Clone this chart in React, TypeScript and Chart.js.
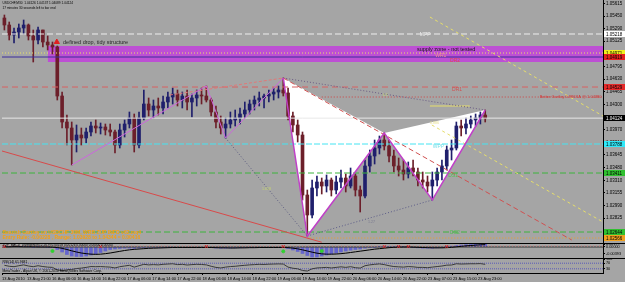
import React, { useEffect, useRef } from "react";
import { Chart, registerables } from "chart.js";

Chart.register(...registerables);

const FONT = "'Liberation Sans', Arial, sans-serif";
Chart.defaults.font.family = FONT;

// ---------------- data (USDCHF M30) ----------------
const opens = [
  1.05426, 1.05335, 1.05205, 1.05244, 1.05296, 1.05335, 1.05192, 1.0514, 1.0527, 1.05114,
  1.05075, 1.05049, 1.04412, 1.04074, 1.03996, 1.0384, 1.03905, 1.03866, 1.03944, 1.04022,
  1.03996, 1.04009, 1.0397, 1.03944, 1.03775, 1.0397, 1.04048, 1.04126, 1.03775, 1.04126,
  1.04308, 1.0423, 1.04282, 1.04256, 1.04334, 1.04399, 1.04438, 1.0436, 1.04412, 1.04334,
  1.04386, 1.04425, 1.04412, 1.0436, 1.04204, 1.04074, 1.03996, 1.04048, 1.041, 1.04126,
  1.04178, 1.0423, 1.04308, 1.0436, 1.04386, 1.04412, 1.04438, 1.04464, 1.0449, 1.04451,
  1.04152, 1.04035, 1.03905, 1.03125, 1.02865, 1.03216, 1.03294, 1.03242, 1.0332, 1.0319,
  1.03294, 1.03346, 1.03242, 1.03372, 1.0319, 1.03112, 1.03502, 1.03632, 1.03736, 1.0384,
  1.03762, 1.03632, 1.03502, 1.0345, 1.03398, 1.03476, 1.03424, 1.0332, 1.03294, 1.03242,
  1.0332, 1.03424, 1.03502, 1.0371, 1.03736, 1.04022, 1.03996, 1.04048, 1.041, 1.04126,
  1.04165,
];
const highs = [
  1.05465, 1.05374, 1.05296, 1.05348, 1.054, 1.05348, 1.0527, 1.05309, 1.0527, 1.05192,
  1.05114, 1.05062, 1.04464, 1.04165, 1.04074, 1.04035, 1.03996, 1.03996, 1.04074, 1.041,
  1.04061, 1.04048, 1.04048, 1.0397, 1.04048, 1.041, 1.04204, 1.04178, 1.04204, 1.0449,
  1.04386, 1.0436, 1.04386, 1.04412, 1.04464, 1.04516, 1.0449, 1.04464, 1.0449, 1.04438,
  1.0449, 1.04516, 1.04542, 1.04386, 1.04282, 1.04152, 1.04126, 1.04204, 1.0423, 1.04256,
  1.04334, 1.0436, 1.04412, 1.04464, 1.04438, 1.0449, 1.04516, 1.04542, 1.04646, 1.04516,
  1.04204, 1.041, 1.03944, 1.0319, 1.0332, 1.03372, 1.03346, 1.03385, 1.03346, 1.03372,
  1.0345, 1.03398, 1.03476, 1.03398, 1.03242, 1.0358, 1.0371, 1.0384, 1.03892, 1.03931,
  1.0384, 1.0371, 1.03606, 1.0358, 1.03554, 1.0358, 1.03476, 1.03424, 1.03372, 1.03424,
  1.03476, 1.0358, 1.03762, 1.0384, 1.04074, 1.041, 1.04126, 1.04152, 1.04178, 1.04204,
  1.0423,
];
const lows = [
  1.0527, 1.0514, 1.05101, 1.05166, 1.05218, 1.0514, 1.04854, 1.05088, 1.05049, 1.0501,
  1.04958, 1.0436, 1.03996, 1.03775, 1.03515, 1.03684, 1.03775, 1.03801, 1.03892, 1.03931,
  1.03918, 1.03905, 1.03892, 1.03671, 1.03736, 1.03879, 1.03996, 1.03684, 1.03736, 1.041,
  1.04152, 1.04126, 1.04165, 1.04178, 1.04256, 1.04308, 1.04282, 1.04256, 1.0423, 1.04139,
  1.04282, 1.04308, 1.04334, 1.04152, 1.03996, 1.03918, 1.03866, 1.03996, 1.04022, 1.04048,
  1.04126, 1.04178, 1.0423, 1.04282, 1.04256, 1.04334, 1.0436, 1.04386, 1.04412, 1.041,
  1.03944, 1.03814, 1.0306, 1.02592, 1.02826, 1.03112, 1.03138, 1.03164, 1.03112, 1.03138,
  1.03216, 1.03164, 1.03216, 1.03112, 1.02904, 1.03086, 1.03424, 1.03528, 1.03658, 1.0371,
  1.03554, 1.03424, 1.03372, 1.0332, 1.03346, 1.03372, 1.03242, 1.03216, 1.03164, 1.0306,
  1.03242, 1.0332, 1.0345, 1.0358, 1.0371, 1.03892, 1.03918, 1.03996, 1.04022, 1.04048,
  1.04074,
];
const closes = [
  1.05335, 1.05205, 1.05244, 1.05296, 1.05335, 1.05192, 1.0514, 1.0527, 1.05114, 1.05075,
  1.05049, 1.04412, 1.04074, 1.03996, 1.0384, 1.03905, 1.03866, 1.03944, 1.04022, 1.03996,
  1.04009, 1.0397, 1.03944, 1.03775, 1.0397, 1.04048, 1.04126, 1.03775, 1.04126, 1.04308,
  1.0423, 1.04282, 1.04256, 1.04334, 1.04399, 1.04438, 1.0436, 1.04412, 1.04334, 1.04386,
  1.04425, 1.04412, 1.0436, 1.04204, 1.04074, 1.03996, 1.04048, 1.041, 1.04126, 1.04178,
  1.0423, 1.04308, 1.0436, 1.04386, 1.04412, 1.04438, 1.04464, 1.0449, 1.04451, 1.04152,
  1.04035, 1.03905, 1.03125, 1.02865, 1.03216, 1.03294, 1.03242, 1.0332, 1.0319, 1.03294,
  1.03346, 1.03242, 1.03372, 1.0319, 1.03112, 1.03502, 1.03632, 1.03736, 1.0384, 1.03762,
  1.03632, 1.03502, 1.0345, 1.03398, 1.03476, 1.03424, 1.0332, 1.03294, 1.03242, 1.0332,
  1.03424, 1.03502, 1.0371, 1.03736, 1.04022, 1.03996, 1.04048, 1.041, 1.04126, 1.04165,
  1.04124,
];

const priceTicks = [
  1.05615, 1.0545, 1.0529, 1.05125, 1.0496, 1.04795, 1.0463, 1.04465, 1.043, 1.04135,
  1.0397, 1.0381, 1.03645, 1.0348, 1.0331, 1.03155, 1.0299, 1.02825,
];

const timeLabels = [
  "13 Aug 2010", "13 Aug 21:00", "16 Aug 06:00", "16 Aug 14:00", "16 Aug 22:00",
  "17 Aug 06:00", "17 Aug 14:00", "17 Aug 22:00", "18 Aug 06:00", "18 Aug 14:00",
  "18 Aug 22:00", "19 Aug 06:00", "19 Aug 14:00", "19 Aug 22:00", "20 Aug 06:00",
  "20 Aug 14:00", "20 Aug 22:00", "23 Aug 07:00", "23 Aug 15:00", "23 Aug 23:00",
];
const timeTickBars = [
  -0.5, 4.71, 9.92, 15.13, 20.34, 25.55, 30.76, 35.97, 41.18, 46.39,
  51.6, 56.81, 62.02, 67.23, 72.44, 77.65, 82.86, 88.07, 93.28, 98.49,
];

// horizontal levels (pivots, bid, entry)
const levelNames = ["MPP", "WR1", "WPIV", "DR1", "Bid", "WPP", "DS1", "DS2", "Entry"];
const levelValues = [1.05218, 1.04971, 1.04919, 1.04529, 1.04124, 1.03788, 1.03411, 1.02644, 1.02566];
const levelFromBars = [-0.5, -0.5, -0.5, -0.5, -0.5, -0.5, -0.5, -0.5, 63];

// supply zone
const zoneFromBar = 9;
const zoneTop = 1.05062;
const zoneBottom = 1.04854;

// ZUP patterns
const gartleyBars = [58, 63, 79, 89, 100];
const gartleyPrices = [1.04646, 1.02592, 1.03931, 1.0306, 1.0423];
const leftPatternBars = [14, 42, 46, 58];
const leftPatternPrices = [1.03515, 1.04542, 1.03866, 1.04646];

// trend / projection lines
const trendFromBars = [-1, 34.4, 46, 58, 63, 58, 88.5, 88.9, 88.5, 66];
const trendFromPrices = [1.03706, 1.04425, 1.03866, 1.04646, 1.02592, 1.04646, 1.05439, 1.04035, 1.04282, 1.04399];
const trendToBars = [66, 58, 63, 100, 89, 118, 124.5, 124.5, 96.8, 124.5];
const trendToPrices = [1.02511, 1.04646, 1.02592, 1.0423, 1.0306, 1.0254, 1.04152, 1.02774, 1.04282, 1.04399];

const arrowBars = [10.9];
const arrowPrices = [1.05114];

// MACD sub-window
const macdHist = [
  0.0002, 0.0003, 0.0002, 0.0001, 0.0002, 0.0001, -0.0001, 0.0001, 0.0, -0.0001,
  -0.0003, -0.0015, -0.003, -0.0045, -0.0054, -0.0057, -0.0057, -0.0054, -0.0048, -0.0042,
  -0.0033, -0.0024, -0.0015, -0.0012, -0.0009, -0.0007, -0.0007, -0.0008, -0.0006, -0.0004,
  -0.0003, -0.0003, -0.0002, -0.0002, -0.0001, -0.0001, -0.0002, -0.0002, -0.0003, -0.0003,
  -0.0004, -0.0004, -0.0003, -0.0004, -0.0006, -0.0007, -0.0007, -0.0006, -0.0005, -0.0005,
  -0.0004, -0.0004, -0.0003, -0.0003, -0.0003, -0.0002, -0.0002, -0.0002, -0.0003, -0.0009,
  -0.0018, -0.0027, -0.0039, -0.0051, -0.006, -0.006, -0.0054, -0.0048, -0.0042, -0.0036,
  -0.003, -0.0024, -0.0019, -0.0015, -0.0012, -0.0007, -0.0004, -0.0001, 0.0002, 0.0004,
  0.0004, 0.0003, 0.0002, 0.0001, -0.0001, -0.0004, -0.0005, -0.0007, -0.0007, -0.0007,
  -0.0005, -0.0003, 0.0001, 0.0005, 0.0009, 0.0012, 0.0014, 0.0015, 0.0016, 0.0016,
  0.0016,
];
const macdSignal = [
  0.0001, 0.0001, 0.0002, 0.0002, 0.0001, 0.0001, 0.0001, 0.0, 0.0, 0.0,
  -0.0001, -0.0003, -0.0008, -0.0015, -0.0023, -0.003, -0.0036, -0.004, -0.0043, -0.0044,
  -0.0043, -0.004, -0.0036, -0.0031, -0.0026, -0.0021, -0.0017, -0.0014, -0.0012, -0.001,
  -0.0008, -0.0007, -0.0006, -0.0005, -0.0004, -0.0003, -0.0003, -0.0003, -0.0003, -0.0003,
  -0.0003, -0.0003, -0.0003, -0.0003, -0.0004, -0.0005, -0.0005, -0.0006, -0.0006, -0.0005,
  -0.0005, -0.0004, -0.0004, -0.0003, -0.0003, -0.0003, -0.0003, -0.0003, -0.0003, -0.0004,
  -0.0007, -0.0011, -0.0017, -0.0024, -0.0031, -0.0037, -0.0041, -0.0043, -0.0043, -0.0042,
  -0.004, -0.0037, -0.0033, -0.0029, -0.0025, -0.0021, -0.0017, -0.0013, -0.001, -0.0007,
  -0.0004, -0.0002, -0.0001, 0.0, 0.0, -0.0001, -0.0002, -0.0003, -0.0004, -0.0005,
  -0.0005, -0.0005, -0.0004, -0.0002, 0.0001, 0.0004, 0.0007, 0.0009, 0.0011, 0.0013,
  0.0014,
];
const macdRedMarkBars = [0, 20, 42, 58, 79, 82, 84, 92];
const macdRedMarkValues = [0.0003, 0.0003, 0.0003, 0.0003, 0.0003, 0.0003, 0.0003, 0.0003];
const macdGreenMarkBars = [10, 58, 66];
const macdGreenMarkValues = [-0.0024, -0.0026, -0.0024];
const macdTicks = [0.00179, 0, -0.00393];

// RSI sub-window
const rsiValues = [
  55, 48, 45, 52, 58, 50, 45, 52, 46, 42,
  40, 22, 18, 22, 25, 32, 35, 40, 46, 45,
  46, 44, 42, 36, 45, 50, 55, 42, 52, 62,
  58, 60, 58, 62, 64, 66, 60, 62, 57, 60,
  62, 61, 58, 48, 40, 36, 42, 46, 48, 52,
  55, 58, 60, 62, 61, 63, 64, 65, 64, 42,
  34, 30, 18, 14, 30, 36, 38, 40, 36, 40,
  44, 40, 45, 38, 35, 52, 58, 62, 65, 60,
  52, 46, 44, 42, 46, 44, 40, 40, 38, 42,
  46, 50, 56, 57, 66, 64, 65, 66, 66, 67,
  62,
];
const rsiLevels = [70, 30];
const rsiTicks = [100, 70, 30];

// ---------------- styles / layout ----------------
const BG = "#a5a5a5";
const BULL = "#1f1f6c";
const BEAR = "#6c1f2a";
const ZONE = "#bd50d4";
const HIST = "#6464cc";
const BAR_MIN = -0.5;
const BAR_MAX = 124.5;
const PRICE_MAX = 1.0566;
const PRICE_MIN = 1.02501;

const levelStyles = [
  { color: "#eeeeee", dash: [6, 3], bg: "#ffffff", fg: "#000000" },
  { color: "#e8e068", dash: [1, 2], bg: "#f0f020", fg: "#000000" },
  { color: "#3a2c9c", dash: [], bg: "#e42020", fg: "#000000" },
  { color: "#d86060", dash: [6, 4], bg: "#e42a2a", fg: "#000000" },
  { color: "#e8e8e8", dash: [], bg: "#000000", fg: "#ffffff" },
  { color: "#44e4f2", dash: [6, 2], bg: "#30e8f8", fg: "#000000" },
  { color: "#3cb43c", dash: [6, 3], bg: "#30c030", fg: "#000000" },
  { color: "#3cb43c", dash: [6, 3], bg: "#30c030", fg: "#000000" },
  { color: "#f0a020", dash: [1, 2], bg: "#f0a020", fg: "#000000" },
];
const trendStyles = [
  { color: "#d84a4a", dash: [], width: 1 },
  { color: "#e07878", dash: [3, 2], width: 1 },
  { color: "#5c5c80", dash: [1, 2], width: 1 },
  { color: "#6a5a84", dash: [1, 2], width: 1 },
  { color: "#5c5c88", dash: [1, 2], width: 1 },
  { color: "#d05050", dash: [5, 3], width: 1 },
  { color: "#e6de6a", dash: [3, 3], width: 1 },
  { color: "#e6de6a", dash: [3, 3], width: 1 },
  { color: "#e6de6a", dash: [], width: 1 },
  { color: "#d04040", dash: [1, 2], width: 1 },
];

type Note = { text: string; bar: number; value: number; color: string; font: string; align?: CanvasTextAlign };

const mainNotes: Note[] = [
  { text: "USDCHF,M30  1.04126 1.04137 1.04089 1.04124", bar: -0.4, value: 1.05621, color: "#000", font: `3.2px ${FONT}` },
  { text: "17 minutes 30 seconds left to bar end", bar: -0.4, value: 1.05556, color: "#000", font: `3.2px ${FONT}` },
  { text: "defined drop, tidy structure", bar: 12.2, value: 1.05114, color: "#262626", font: `5.5px ${FONT}` },
  { text: "supply zone - not tested", bar: 85.8, value: 1.05023, color: "#141414", font: `5.5px ${FONT}` },
  { text: "MPP", bar: 86.4, value: 1.05205, color: "#eeeeee", font: `5px ${FONT}` },
  { text: "WR1", bar: 89.6, value: 1.04932, color: "#f09090", font: `5px ${FONT}` },
  { text: "DR2", bar: 92.7, value: 1.04867, color: "#e04848", font: `5px ${FONT}` },
  { text: "DR1", bar: 93.1, value: 1.0449, color: "#d05050", font: `5px ${FONT}` },
  { text: "Better Gartley 0.886XA @ 1.04380", bar: 124.2, value: 1.04405, color: "#d83030", font: `4px ${FONT}`, align: "right" },
  { text: "WPP", bar: 89.1, value: 1.03749, color: "#78e0ea", font: `5px ${FONT}` },
  { text: "DS1", bar: 92.3, value: 1.03372, color: "#50c050", font: `5px ${FONT}` },
  { text: "DS2", bar: 92.7, value: 1.02631, color: "#50c050", font: `5px ${FONT}` },
  { text: "0.886", bar: 88.5, value: 1.04061, color: "#e8e090", font: `3.6px ${FONT}` },
  { text: "1.618", bar: 53.6, value: 1.03203, color: "#c8d870", font: `3.6px ${FONT}` },
  { text: "1.27", bar: 75.6, value: 1.02774, color: "#7a7a90", font: `3.6px ${FONT}` },
  { text: "0.5", bar: 78.7, value: 1.04425, color: "#c8d870", font: `3.6px ${FONT}` },
  { text: "Bearish Gartley on USDCHF 30M, WRB ZUP INFO v62.mq4", bar: -0.4, value: 1.02631, color: "#f5a010", font: `bold 5px ${FONT}` },
  { text: "Entry Rule: -0.00228 , Range: 1.03928 to 1.04344 = 0.00416", bar: -0.4, value: 1.02566, color: "#f5a010", font: `bold 5px ${FONT}` },
];
const macdNotes: Note[] = [
  { text: "ZUP_MACD_Divergence(12,26,9) 0.00158 0.00126 0.00000 0.00000 0.00000", bar: -0.4, value: 0.0011, color: "#000", font: `3.2px ${FONT}` },
];
const rsiNotes: Note[] = [
  { text: "RSI(14) 61.9681", bar: -0.4, value: 79, color: "#000", font: `3.4px ${FONT}` },
  { text: "MetaTrader - Alpari UK, \u00a9 2001-2010 MetaQuotes Software Corp.", bar: -0.4, value: 17, color: "#000", font: `3.4px ${FONT}` },
];

// ---------------- helpers ----------------
const pts = (bars: number[], vals: number[]) => bars.map((b, i) => ({ x: b, y: vals[i] }));

function lineDs(data: any[], color: string, dash: number[], width: number, order: number, extra: any = {}) {
  return {
    type: "line",
    data,
    borderColor: color,
    borderDash: dash,
    borderWidth: width,
    pointRadius: 0,
    fill: false,
    tension: 0,
    order,
    ...extra,
  };
}

function notesPlugin(id: string, notes: Note[]) {
  return {
    id,
    afterDatasetsDraw(chart: any) {
      const { ctx, scales } = chart;
      ctx.save();
      ctx.textBaseline = "middle";
      for (const n of notes) {
        ctx.font = n.font;
        ctx.fillStyle = n.color;
        ctx.textAlign = n.align || "left";
        ctx.fillText(n.text, scales.x.getPixelForValue(n.bar), scales.y.getPixelForValue(n.value));
      }
      ctx.restore();
    },
  };
}

const tagsPlugin = {
  id: "priceTags",
  afterDraw(chart: any) {
    const { ctx, scales, chartArea } = chart;
    ctx.save();
    ctx.font = `4.5px ${FONT}`;
    ctx.textBaseline = "middle";
    ctx.textAlign = "left";
    levelValues.forEach((v, i) => {
      const y = Math.round(scales.y.getPixelForValue(v));
      ctx.fillStyle = levelStyles[i].bg;
      ctx.fillRect(chartArea.right + 1, y - 3, 21, 6);
      ctx.fillStyle = levelStyles[i].fg;
      ctx.fillText(v.toFixed(5), chartArea.right + 3, y + 0.5);
    });
    ctx.restore();
  },
};

const hiddenX = {
  type: "linear",
  min: BAR_MIN,
  max: BAR_MAX,
  display: false,
  offset: false,
  grid: { display: false },
};

function rightY(min: number, max: number, ticks: number[], fmt: (v: number) => string, size: number) {
  return {
    type: "linear",
    position: "right",
    min,
    max,
    afterBuildTicks: (s: any) => {
      s.ticks = ticks.map((v) => ({ value: v }));
    },
    afterFit: (s: any) => {
      s.width = 22;
      s.paddingTop = 0;
      s.paddingBottom = 0;
    },
    ticks: { autoSkip: false, font: { size, family: FONT }, color: "#000", padding: 1, callback: (v: any) => fmt(Number(v)) },
    grid: { drawOnChartArea: false, drawTicks: true, tickLength: 2, color: "#000" },
    border: { display: true, color: "#000", width: 1 },
  };
}

const baseOptions = (scales: any) => ({
  animation: false,
  responsive: false,
  maintainAspectRatio: false,
  devicePixelRatio: 1,
  events: [],
  layout: { autoPadding: false, padding: { left: 2, right: 0, top: 0, bottom: 0 } },
  plugins: { legend: { display: false }, tooltip: { enabled: false } },
  scales,
});

function mainConfig(): any {
  const colors = closes.map((c, i) => (c >= opens[i] ? BULL : BEAR));
  const gp = pts(gartleyBars, gartleyPrices);
  const datasets: any[] = [
    lineDs(pts([zoneFromBar, BAR_MAX], [zoneTop, zoneTop]), "rgba(0,0,0,0)", [], 1, 60, {
      fill: { value: zoneBottom },
      backgroundColor: ZONE,
    }),
    lineDs([gp[0], gp[1], gp[2]], "rgba(0,0,0,0)", [], 1, 55, { fill: "shape", backgroundColor: "#ffffff" }),
    lineDs([gp[2], gp[3], gp[4]], "rgba(0,0,0,0)", [], 1, 55, { fill: "shape", backgroundColor: "#ffffff" }),
    {
      type: "bar",
      data: highs.map((h, i) => ({ x: i, y: [lows[i], h] })),
      backgroundColor: colors,
      barThickness: 1,
      maxBarThickness: 1,
      grouped: false,
      order: 40,
    },
    {
      type: "bar",
      data: opens.map((o, i) => ({ x: i, y: [o, closes[i]] })),
      backgroundColor: colors,
      barThickness: 3,
      maxBarThickness: 3,
      grouped: false,
      order: 39,
    },
  ];
  levelValues.forEach((v, i) => {
    datasets.push(lineDs(pts([levelFromBars[i], BAR_MAX], [v, v]), levelStyles[i].color, levelStyles[i].dash, 1, 20));
  });
  trendFromBars.forEach((b, i) => {
    datasets.push(
      lineDs(pts([b, trendToBars[i]], [trendFromPrices[i], trendToPrices[i]]), trendStyles[i].color, trendStyles[i].dash, trendStyles[i].width, 15)
    );
  });
  datasets.push(lineDs(pts(leftPatternBars, leftPatternPrices), "#cc66dd", [], 1, 10));
  datasets.push(lineDs(gp, "#c040c8", [], 1.5, 9));
  datasets.push(
    lineDs(pts(arrowBars, arrowPrices), "#e02020", [], 1, 5, {
      showLine: false,
      pointRadius: 3,
      pointStyle: "triangle",
      pointBackgroundColor: "#e02020",
      pointBorderColor: "#e02020",
    })
  );
  return {
    type: "bar",
    data: { datasets },
    options: baseOptions({ x: hiddenX, y: rightY(PRICE_MIN, PRICE_MAX, priceTicks, (v) => v.toFixed(5), 4.5) }),
    plugins: [notesPlugin("mainNotes", mainNotes), tagsPlugin],
  };
}

function macdConfig(): any {
  const idx = macdHist.map((_, i) => i);
  const datasets: any[] = [
    {
      type: "bar",
      data: macdHist.map((v, i) => ({ x: i, y: [0, v] })),
      backgroundColor: HIST,
      barThickness: 3,
      maxBarThickness: 3,
      grouped: false,
      order: 30,
    },
    lineDs(pts([BAR_MIN, BAR_MAX], [0, 0]), "#303030", [], 1, 25),
    lineDs(pts([BAR_MIN, BAR_MAX], [0.0006, 0.0006]), "#d08080", [1, 2], 1, 24),
    lineDs(pts(idx, macdSignal), "#000000", [], 1, 20),
    lineDs(pts(macdRedMarkBars, macdRedMarkValues), "#e02020", [], 1, 5, {
      showLine: false,
      pointRadius: 2,
      pointStyle: "crossRot",
      pointBorderColor: "#e02020",
      pointBorderWidth: 1,
    }),
    lineDs(pts(macdGreenMarkBars, macdGreenMarkValues), "#30d030", [], 1, 5, {
      showLine: false,
      pointRadius: 1.5,
      pointStyle: "circle",
      pointBackgroundColor: "#30d030",
      pointBorderColor: "#30d030",
    }),
  ];
  return {
    type: "bar",
    data: { datasets },
    options: baseOptions({ x: hiddenX, y: rightY(-0.0066, 0.0018, macdTicks, (v) => v.toFixed(5), 3.8) }),
    plugins: [notesPlugin("macdNotes", macdNotes)],
  };
}

function rsiConfig(): any {
  const idx = rsiValues.map((_, i) => i);
  const datasets: any[] = [
    ...rsiLevels.map((lv) => lineDs(pts([BAR_MIN, BAR_MAX], [lv, lv]), "#5a5ab8", [1, 1], 1, 20)),
    lineDs(pts(idx, rsiValues), "#3a3a3a", [], 1, 10),
  ];
  const xAxis = {
    type: "linear",
    min: BAR_MIN,
    max: BAR_MAX,
    position: "bottom",
    offset: false,
    afterBuildTicks: (s: any) => {
      s.ticks = timeTickBars.map((v) => ({ value: v }));
    },
    afterFit: (s: any) => {
      s.height = 9;
      s.paddingLeft = 0;
      s.paddingRight = 0;
    },
    ticks: {
      autoSkip: false,
      maxRotation: 0,
      minRotation: 0,
      align: "start",
      padding: 1,
      font: { size: 4, family: FONT },
      color: "#000",
      callback: (_v: any, i: number) => timeLabels[i],
    },
    grid: { drawOnChartArea: false, drawTicks: true, tickLength: 2, color: "#000" },
    border: { display: true, color: "#000", width: 1 },
  };
  return {
    type: "line",
    data: { datasets },
    options: baseOptions({ x: xAxis, y: rightY(0, 100, rsiTicks, (v) => String(v), 3.8) }),
    plugins: [notesPlugin("rsiNotes", rsiNotes)],
  };
}

export default function App() {
  const mainRef = useRef<HTMLCanvasElement>(null);
  const macdRef = useRef<HTMLCanvasElement>(null);
  const rsiRef = useRef<HTMLCanvasElement>(null);

  useEffect(() => {
    document.body.style.margin = "0";
    const charts = [
      new Chart(mainRef.current as HTMLCanvasElement, mainConfig()),
      new Chart(macdRef.current as HTMLCanvasElement, macdConfig()),
      new Chart(rsiRef.current as HTMLCanvasElement, rsiConfig()),
    ];
    return () => charts.forEach((c) => c.destroy());
  }, []);

  return (
    <div style={{ position: "fixed", left: 0, top: 0, width: 625, height: 282, background: BG, overflow: "hidden" }}>
      <canvas ref={mainRef} width={625} height={243} style={{ position: "absolute", left: 0, top: 0 }} />
      <div style={{ position: "absolute", left: 0, top: 243, width: 625, height: 1, background: "#000" }} />
      <canvas ref={macdRef} width={625} height={14} style={{ position: "absolute", left: 0, top: 244 }} />
      <div style={{ position: "absolute", left: 0, top: 258, width: 625, height: 1, background: "#000" }} />
      <canvas ref={rsiRef} width={625} height={23} style={{ position: "absolute", left: 0, top: 259 }} />
    </div>
  );
}
